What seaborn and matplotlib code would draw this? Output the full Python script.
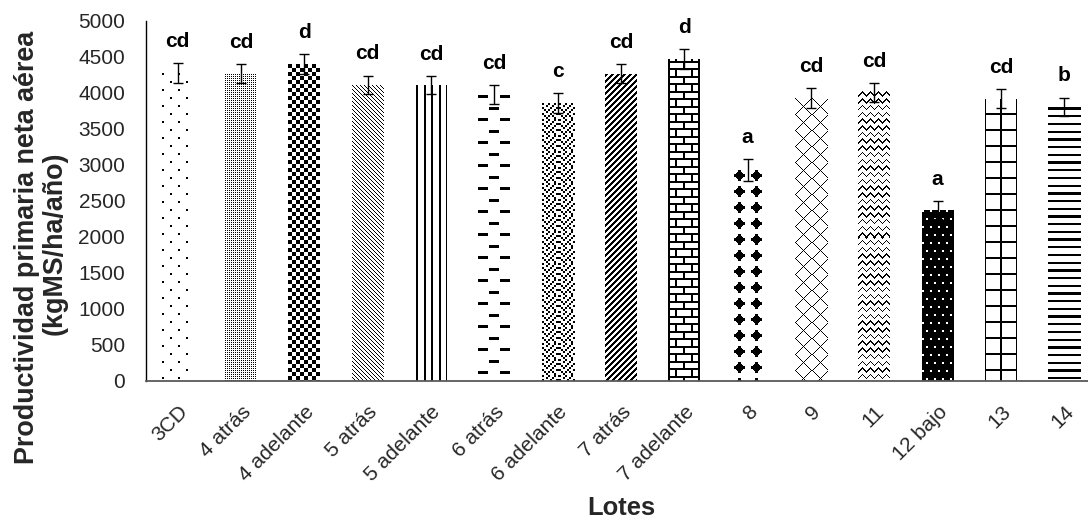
import matplotlib
matplotlib.use("Agg")
import matplotlib.pyplot as plt
import seaborn as sns
import numpy as np

sns.set_theme(style="white")
plt.rcParams["font.family"] = ["Liberation Sans", "DejaVu Sans"]

# Productivity per lot (kg DM/ha/yr), standard errors and Tukey letters
lotes = ["3CD", "4 atrás", "4 adelante", "5 atrás", "5 adelante", "6 atrás",
         "6 adelante", "7 atrás", "7 adelante", "8", "9", "11", "12 bajo",
         "13", "14"]
ppna = [4280, 4270, 4400, 4110, 4110, 3980, 3860, 4270, 4470, 2930, 3930,
        4010, 2375, 3920, 3805]
error = [140, 130, 140, 130, 125, 130, 140, 135, 140, 150, 135, 130, 125,
         135, 130]
letras = ["cd", "cd", "d", "cd", "cd", "cd", "c", "cd", "d", "a", "cd", "cd",
          "a", "cd", "b"]


# ---- monochrome fill textures (c = pixel column from bar left,
#      r = pixel row from bar top); each returns a boolean "ink" mask ----
def dots_sparse(c, r, w):
    return (((c % 16) < 2) & ((r % 16) < 2)) | \
           ((((c + 8) % 16) < 2) & (((r + 8) % 16) < 2))


def dots_dense(c, r, w):
    return ((c % 2) == 0) & ((r % 2) == 0)


def checker(c, r, w):
    return ((c // 4 + r // 4) % 2) == 0


def diag_down(c, r, w):
    return ((c - r) % 4) == 0


def vlines(c, r, w):
    return ((c - 1) % 7.5) < 2


def dashes(c, r, w):
    rr = (r - 1) % 23
    row_a = (rr < 3) & ((c % 22) < 10)
    row_b = (rr >= 11.5) & (rr < 14.5) & (((c - 11) % 22) < 10)
    return row_a | row_b


_CONF = np.array([[ch == "X" for ch in row] for row in [
    "X..X..X.",
    "..X..X..",
    "X...X..X",
    ".X.X..X.",
    "..X..X..",
    "X...X..X",
    ".X.X.X..",
    "..X...X.",
]])


def confetti(c, r, w):
    return _CONF[(r // 2) % 8, (c // 2) % 8]


def diag_up_thick(c, r, w):
    return ((c + r) % 6) < 3


def bricks(c, r, w):
    k = np.floor((r + 6) / 7.5).astype(int)
    horiz = ((r + 6) % 7.5) < 2
    vert = ((c - 7 - 8 * (k % 2)) % 16) < 2
    edges = (c < 2) | (c >= w - 2)
    return horiz | vert | edges


def diamonds(c, r, w):
    dc = ((c - 7 + 8) % 16) - 8
    dr = ((r - 5 + 8) % 16) - 8
    adc, adr = np.abs(dc), np.abs(dr)
    return ((adc + adr) <= 5) | ((adc <= 1) & (adr <= 5)) | \
           ((adr <= 1) & (adc <= 5))


def weave(c, r, w):
    a = np.abs((c % 16) - 8)
    b = np.abs((r % 16) - 8)
    return np.abs(a - b) < 1


def zigzag(c, r, w):
    tri = np.abs((c % 8) - 4)
    return ((r - tri) % 6.7) < 1.5


def white_dots(c, r, w):
    d = (((c % 8) < 2) & ((r % 16) < 2)) | \
        ((((c + 4) % 8) < 2) & (((r + 8) % 16) < 2))
    return ~d


def grid(c, r, w):
    return (((c - 15) % 16) < 2) | (((r - 14) % 16) < 2)


def hlines(c, r, w):
    return (r % 7.7) < 2.3


texturas = [dots_sparse, dots_dense, checker, diag_down, vlines, dashes,
            confetti, diag_up_thick, bricks, diamonds, weave, zigzag,
            white_dots, grid, hlines]

fig = plt.figure(figsize=(10.88, 5.23), dpi=100)
ax = fig.add_axes([146 / 1088, 142 / 523, 950 / 1088, 360 / 523])

sns.barplot(x=lotes, y=ppna, color="white", width=0.5, errorbar=None,
            linewidth=0, ax=ax)

ax.set_ylim(0, 5000)
ax.set_xlim(-0.5, len(lotes) - 0.5)

# paint each bar with its texture, pixel-aligned and clipped to the bar
fig.canvas.draw()
renderer = fig.canvas.get_renderer()
inv = ax.transData.inverted()
for patch, fn in zip(ax.patches, texturas):
    bb = patch.get_window_extent(renderer)
    px0, px1 = int(round(bb.x0)), int(round(bb.x1))
    py0, py1 = int(round(bb.y0)), int(round(bb.y1))
    w, h = max(px1 - px0, 1), max(py1 - py0, 1)
    c, r = np.meshgrid(np.arange(w), np.arange(h))
    ink = fn(c, r, w)
    img = np.ones((h, w, 4))
    img[ink, :3] = 0.0
    (dx0, dy0), (dx1, dy1) = inv.transform([(px0, py0), (px1, py1)])
    ax.imshow(img, extent=(dx0, dx1, dy0, dy1), origin="upper",
              interpolation="nearest", aspect="auto", clip_path=patch,
              zorder=2)
ax.set_ylim(0, 5000)
ax.set_xlim(-0.5, len(lotes) - 0.5)

xpos = np.arange(len(lotes))
ax.errorbar(xpos, ppna, yerr=error, fmt="none", ecolor="black",
            elinewidth=1.0, capsize=3.6, capthick=1.0, zorder=3)

for x, v, e, letra in zip(xpos, ppna, error, letras):
    ax.text(x, v + e + 170, letra, ha="center", va="bottom",
            fontsize=15, fontweight="bold", color="black")

ax.set_yticks(np.arange(0, 5001, 500))
ax.tick_params(axis="y", labelsize=15, length=0, pad=15, labelcolor="#262626")
ax.tick_params(axis="x", labelsize=15, length=0, pad=15, labelcolor="#262626")
plt.setp(ax.get_xticklabels(), rotation=45, ha="right",
         rotation_mode="anchor")

for s in ["top", "right"]:
    ax.spines[s].set_visible(False)
ax.spines["left"].set_color("black")
ax.spines["left"].set_linewidth(1.0)
ax.spines["bottom"].set_color("#595959")
ax.spines["bottom"].set_linewidth(1.3)

ax.set_xlabel("")
ax.set_ylabel("")
fig.text(27 / 1088, 1 - 247 / 523, "Productividad primaria neta aérea",
         rotation=90, ha="center", va="center", fontsize=19.4,
         fontweight="bold")
fig.text(55 / 1088, 1 - 243 / 523, "(kgMS/ha/año)", rotation=90,
         ha="center", va="center", fontsize=19.4, fontweight="bold")
fig.text(621 / 1088, 1 - 508 / 523, "Lotes", ha="center", va="center",
         fontsize=18.4, fontweight="bold")

fig.savefig("out.png", dpi=100)
